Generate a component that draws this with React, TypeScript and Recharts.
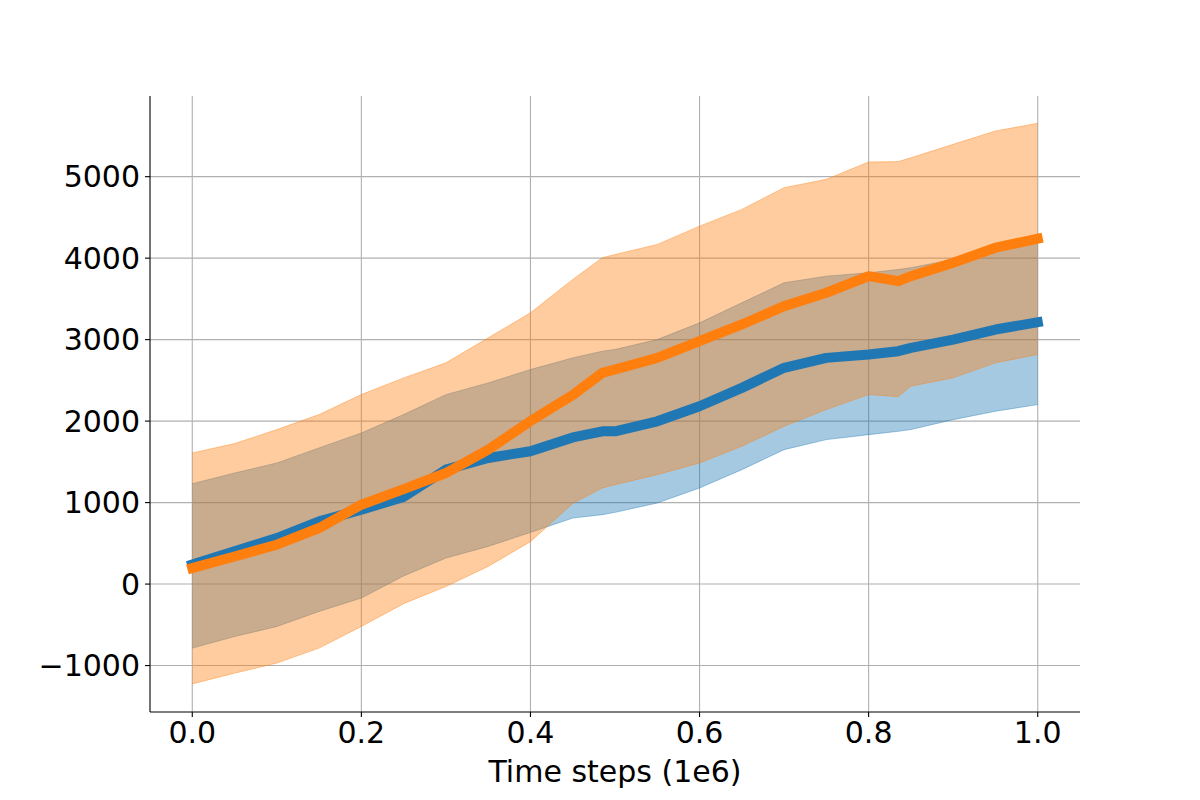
import {
  ComposedChart,
  Area,
  Line,
  XAxis,
  YAxis,
  CartesianGrid,
} from "recharts";

// time steps (1e6)
const steps = [
  0, 0.05, 0.1, 0.15, 0.2, 0.25, 0.3, 0.35, 0.4, 0.45, 0.485, 0.5, 0.55, 0.6,
  0.65, 0.7, 0.75, 0.8, 0.835, 0.85, 0.9, 0.95, 1.0,
];

const blueMean = [
  240, 401, 565, 769, 913, 1070, 1404, 1548, 1630, 1800, 1875, 1875, 1998,
  2182, 2408, 2654, 2776, 2817, 2858, 2899, 3001, 3124, 3214,
];
const blueLow = [
  -786, -644, -521, -336, -172, 100, 319, 462, 634, 810, 852, 880, 995, 1179,
  1404, 1650, 1773, 1834, 1875, 1896, 2018, 2121, 2203,
];
const blueHigh = [
  1232, 1363, 1486, 1671, 1855, 2080, 2325, 2469, 2633, 2776, 2858, 2879,
  3001, 3206, 3452, 3698, 3779, 3820, 3861, 3882, 3984, 4107, 4189,
];

const orangeMean = [
  196, 339, 483, 688, 974, 1165, 1363, 1650, 2000, 2320, 2592, 2633, 2776,
  2981, 3186, 3411, 3575, 3779, 3718, 3779, 3943, 4128, 4238,
];
const orangeLow = [
  -1225, -1094, -970, -786, -521, -240, -30, 217, 520, 990, 1180, 1220, 1343,
  1486, 1691, 1936, 2141, 2326, 2300, 2428, 2531, 2715, 2817,
];
const orangeHigh = [
  1609, 1724, 1896, 2080, 2326, 2530, 2715, 3022, 3329, 3738, 4005, 4045,
  4168, 4393, 4598, 4865, 4967, 5180, 5185, 5232, 5397, 5561, 5655,
];

const xTicks = [0, 0.2, 0.4, 0.6, 0.8, 1.0];
const yTicks = [-1000, 0, 1000, 2000, 3000, 4000, 5000];

const BLUE = "#1f77b4";
const ORANGE = "#ff7f0e";
const FONT = "DejaVu Sans";

const rows = steps.map((x, i) => ({
  x,
  blue: blueMean[i],
  orange: orangeMean[i],
  blueBand: [blueLow[i], blueHigh[i]],
  orangeBand: [orangeLow[i], orangeHigh[i]],
}));

const tickStyle = { fontSize: 30, fill: "#000", fontFamily: FONT };

export default function App() {
  return (
    <>
      <style>{`body{margin:0}`}</style>
      <ComposedChart
        width={1200}
        height={800}
        data={rows}
        margin={{ top: 96, right: 120, bottom: 0, left: 0 }}
      >
        <CartesianGrid stroke="#b0b0b0" strokeWidth={1.1} syncWithTicks />
        <XAxis
          dataKey="x"
          type="number"
          domain={[-0.05, 1.05]}
          ticks={xTicks}
          interval={0}
          tickFormatter={(v: number) => v.toFixed(1)}
          height={88}
          tick={tickStyle}
          tickSize={5}
          tickMargin={5}
          axisLine={{ stroke: "#000", strokeWidth: 1.1 }}
          tickLine={{ stroke: "#000", strokeWidth: 1.1 }}
          label={{
            value: "Time steps (1e6)",
            position: "insideBottom",
            offset: 18,
            style: { fontSize: 30, fill: "#000", fontFamily: FONT },
          }}
        />
        <YAxis
          type="number"
          domain={[-1570, 5990]}
          ticks={yTicks}
          interval={0}
          width={150}
          tick={tickStyle}
          tickSize={5}
          tickMargin={5}
          tickFormatter={(v: number) => (v < 0 ? "\u2212" + Math.abs(v) : String(v))}
          axisLine={{ stroke: "#000", strokeWidth: 1.1 }}
          tickLine={{ stroke: "#000", strokeWidth: 1.1 }}
        />
        <Area
          type="linear"
          dataKey="blueBand"
          fill={BLUE}
          fillOpacity={0.4}
          stroke={BLUE}
          strokeOpacity={0.4}
          strokeWidth={1}
          dot={false}
          activeDot={false}
          isAnimationActive={false}
        />
        <Area
          type="linear"
          dataKey="orangeBand"
          fill={ORANGE}
          fillOpacity={0.4}
          stroke={ORANGE}
          strokeOpacity={0.4}
          strokeWidth={1}
          dot={false}
          activeDot={false}
          isAnimationActive={false}
        />
        <Line
          type="linear"
          dataKey="blue"
          stroke={BLUE}
          strokeWidth={10}
          strokeLinecap="square"
          strokeLinejoin="round"
          dot={false}
          activeDot={false}
          isAnimationActive={false}
        />
        <Line
          type="linear"
          dataKey="orange"
          stroke={ORANGE}
          strokeWidth={10}
          strokeLinecap="square"
          strokeLinejoin="round"
          dot={false}
          activeDot={false}
          isAnimationActive={false}
        />
      </ComposedChart>
    </>
  );
}
